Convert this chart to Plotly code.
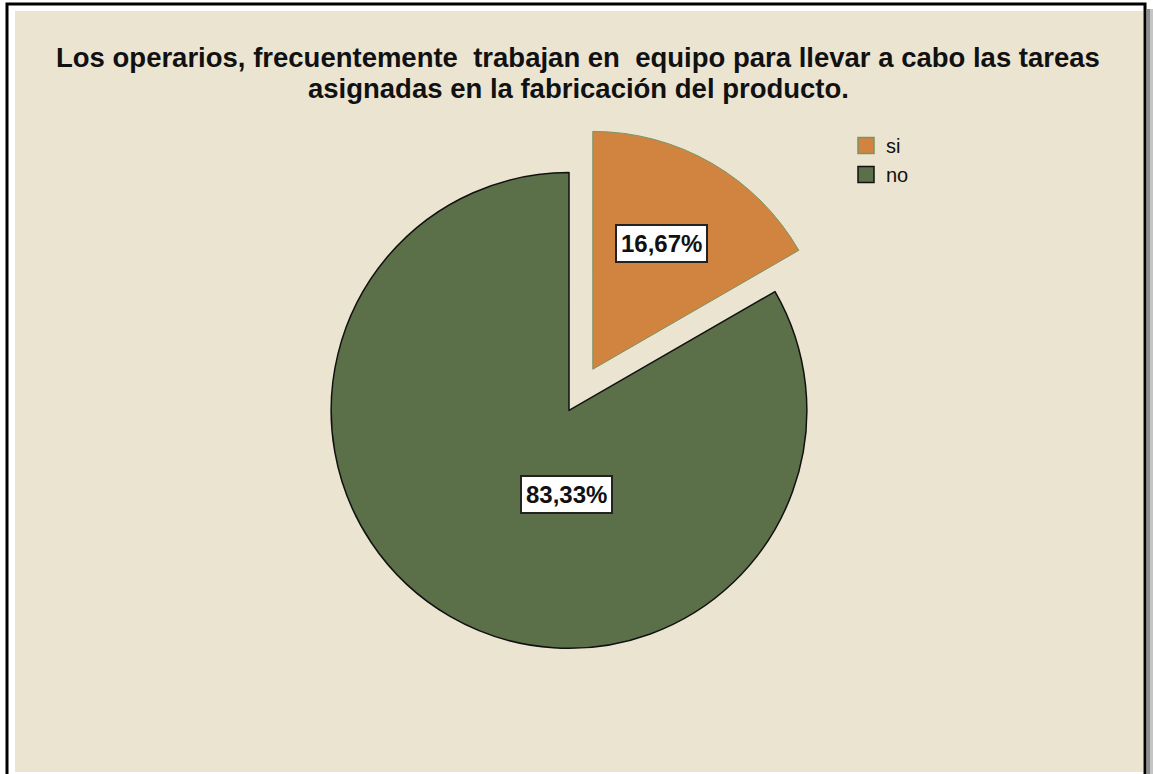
import plotly.graph_objects as go

# Survey answers and their share of respondents (%)
categories = ["si", "no"]
percentages = [16.67, 83.33]
slice_colors = ["#D0843F", "#5B7048"]
edge_colors = ["#7C9262", "#111111"]

title_lines = [
    "Los operarios, frecuentemente\u00a0 trabajan en\u00a0 equipo para llevar a cabo las tareas",
    "asignadas en la fabricación del producto.",
]

W, H = 1153, 774
BG = "#EBE4D1"
FONT = "Liberation Sans, Arial, sans-serif"


def px(x):
    return x / W


def py(y):
    return 1 - y / H


fig = go.Figure()

fig.add_trace(go.Pie(
    labels=categories,
    values=percentages,
    marker=dict(colors=slice_colors, line=dict(color=edge_colors, width=[1, 1.5])),
    pull=[0.2, 0],
    sort=False,
    direction="clockwise",
    rotation=0,
    textinfo="none",
    hoverinfo="label+percent",
    showlegend=False,
    domain=dict(x=[0.1935, 0.7935], y=[0.1010, 0.8385]),
))

# legend entries with larger square swatches
for name, col, edge in zip(categories, slice_colors, edge_colors):
    fig.add_trace(go.Scatter(
        x=[None], y=[None], mode="markers", name=name,
        marker=dict(symbol="square", size=16, color=col, line=dict(color=edge, width=1.5)),
    ))

annotations = []
# title, one annotation per line
for text, yc in zip(title_lines, [57, 88]):
    annotations.append(dict(
        text=f"<b>{text}</b>", x=px(578), y=py(yc), xref="paper", yref="paper",
        xanchor="center", yanchor="middle", showarrow=False,
        font=dict(family=FONT, size=27.5, color="#111111"),
    ))

# percentage labels in white boxes
label_pos = [(661.5, 243.5), (566, 494)]
for v, (lx, ly) in zip(percentages, label_pos):
    annotations.append(dict(
        text=f"<b>{v:.2f}".replace(".", ",") + "%</b>",
        x=px(lx), y=py(ly), xref="paper", yref="paper",
        xanchor="center", yanchor="middle", showarrow=False,
        font=dict(family=FONT, size=24, color="#111111"),
        bgcolor="white", bordercolor="#222222", borderwidth=2, borderpad=4,
    ))

shapes = [
    # panel frame
    dict(type="rect", xref="paper", yref="paper", x0=px(7), x1=px(1145), y0=py(4), y1=py(H + 10),
         line=dict(color="black", width=3), fillcolor="white", layer="below"),
    dict(type="rect", xref="paper", yref="paper", x0=px(15), x1=px(1143), y0=py(11), y1=py(772),
         line=dict(width=0), fillcolor=BG, layer="below"),
    # drop shadow on the right
    dict(type="rect", xref="paper", yref="paper", x0=px(1147), x1=px(1150), y0=py(9), y1=py(H),
         line=dict(width=0), fillcolor="#8E8E8E", layer="below"),
    dict(type="rect", xref="paper", yref="paper", x0=px(1150), x1=px(1153), y0=py(9), y1=py(H),
         line=dict(width=0), fillcolor="#C4C4C4", layer="below"),
]

fig.update_layout(
    width=W, height=H,
    margin=dict(l=0, r=0, t=0, b=0),
    paper_bgcolor="white",
    plot_bgcolor="rgba(0,0,0,0)",
    xaxis=dict(visible=False, range=[0, 1]),
    yaxis=dict(visible=False, range=[0, 1]),
    showlegend=True,
    legend=dict(
        x=px(846), y=py(126), xanchor="left", yanchor="top",
        bgcolor="rgba(0,0,0,0)", borderwidth=0,
        font=dict(family=FONT, size=20, color="#111111"),
        tracegroupgap=0,
    ),
    annotations=annotations,
    shapes=shapes,
)

fig.write_html("out.html")
